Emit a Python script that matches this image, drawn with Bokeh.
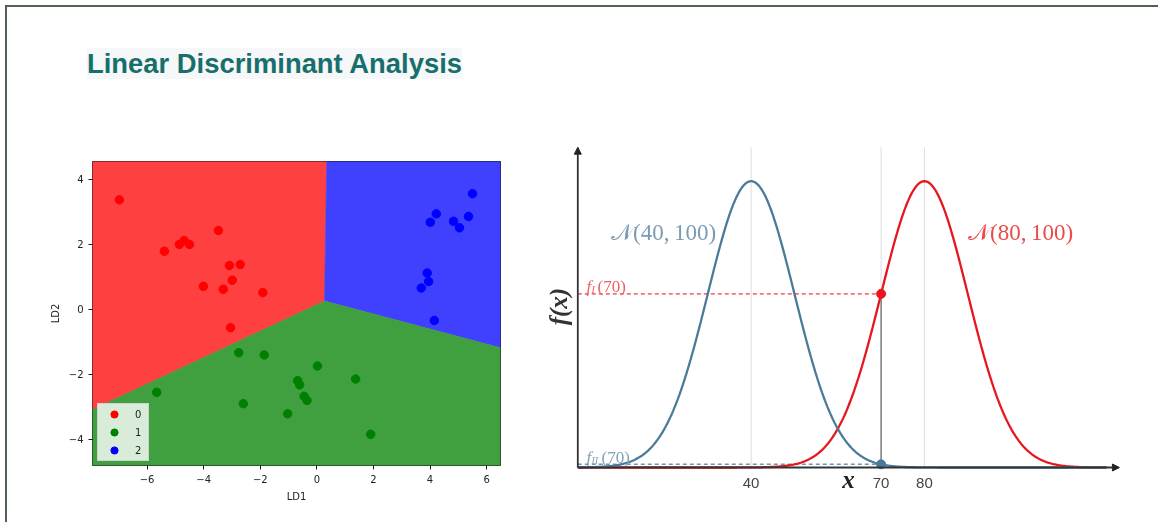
import numpy as np
from bokeh.plotting import figure
from bokeh.models import Range1d, Div, Legend, LegendItem, Arrow, NormalHead
from bokeh.layouts import column, row
from bokeh.embed import file_html
from bokeh.resources import INLINE
from bokeh.core.properties import value

# ---------------- data: left panel (LDA projection) ----------------
class_labels = ["0", "1", "2"]
ld1_class0 = [-6.98, -3.48, -5.39, -4.86, -4.69, -4.50, -3.09, -2.71, -2.99, -4.01, -3.31, -1.91, -3.05]
ld2_class0 = [3.36, 2.42, 1.78, 1.99, 2.11, 1.99, 1.34, 1.37, 0.89, 0.70, 0.61, 0.51, -0.57]
ld1_class1 = [-5.66, -2.76, -1.86, -2.60, 0.02, -0.68, -0.61, -0.45, -0.35, -1.03, 1.37, 1.90]
ld2_class1 = [-2.56, -1.34, -1.41, -2.91, -1.75, -2.20, -2.33, -2.68, -2.81, -3.22, -2.15, -3.85]
ld1_class2 = [5.50, 4.22, 4.01, 4.83, 5.04, 5.36, 3.90, 3.95, 3.69, 4.15]
ld2_class2 = [3.55, 2.93, 2.67, 2.70, 2.50, 2.85, 1.11, 0.85, 0.65, -0.35]

# plotting window of the decision-region grid
ld1_limits = [-7.93, 6.49]
ld2_limits = [-4.81, 4.54]
# decision boundaries: common junction and where each boundary leaves the window
boundary_junction = [0.27, 0.25]
boundary_top_ld1 = 0.35      # class 0 / class 2 boundary at top edge
boundary_left_ld2 = -3.09    # class 0 / class 1 boundary at left edge
boundary_right_ld2 = -1.19   # class 1 / class 2 boundary at right edge

x_ticks_left = [-6, -4, -2, 0, 2, 4, 6]
y_ticks_left = [-4, -2, 0, 2, 4]

# ---------------- data: right panel (two normal densities) ----------------
means = [40, 80]
variances = [100, 100]
x_eval = 70
x_axis_max = 125
x_ticks_right = [40, 70, 80]

# ---------------- left figure ----------------
xmin, xmax = ld1_limits
ymin, ymax = ld2_limits
jx, jy = boundary_junction

p1 = figure(width=528, height=397,
            min_border_left=92, min_border_right=28, min_border_top=53, min_border_bottom=40,
            x_range=Range1d(xmin, xmax), y_range=Range1d(ymin, ymax),
            output_backend="svg", toolbar_location=None, margin=0)
p1.border_fill_alpha = 0
p1.frame_align = False

region_red = ([xmin, xmin, boundary_top_ld1, jx], [boundary_left_ld2, ymax, ymax, jy])
region_blue = ([boundary_top_ld1, xmax, xmax, jx], [ymax, ymax, boundary_right_ld2, jy])
region_green = ([xmin, jx, xmax, xmax, xmin], [boundary_left_ld2, jy, boundary_right_ld2, ymin, ymin])
for (rx, ry), col in [(region_red, "#ff4040"), (region_blue, "#4040ff"), (region_green, "#40a040")]:
    p1.patch(rx, ry, fill_color=col, line_color=col, line_width=0.6)

r0 = p1.scatter(ld1_class0, ld2_class0, size=8.5, color="#ff0000")
r1 = p1.scatter(ld1_class1, ld2_class1, size=8.5, color="#008000")
r2 = p1.scatter(ld1_class2, ld2_class2, size=8.5, color="#0000ff")

legend = Legend(items=[LegendItem(label=class_labels[0], renderers=[r0]),
                       LegendItem(label=class_labels[1], renderers=[r1]),
                       LegendItem(label=class_labels[2], renderers=[r2])],
                location=(5, 4), padding=1, spacing=0, margin=0,
                glyph_width=30, glyph_height=18, label_height=18, label_width=12,
                label_standoff=6, label_text_font_size="10px",
                label_text_font="DejaVu Sans", label_text_color="#222222",
                background_fill_color="white", background_fill_alpha=0.8,
                border_line_color="#cccccc", border_line_alpha=0.8)
p1.add_layout(legend, "center")

p1.grid.visible = False
p1.outline_line_color = "black"
p1.outline_line_width = 0.9
p1.xaxis.ticker = x_ticks_left
p1.yaxis.ticker = y_ticks_left
p1.xaxis.major_label_overrides = {t: (str(t).replace("-", "\u2212")) for t in x_ticks_left}
p1.yaxis.major_label_overrides = {t: (str(t).replace("-", "\u2212")) for t in y_ticks_left}
p1.xaxis.axis_label = "LD1"
p1.yaxis.axis_label = "LD2"
for ax in (p1.xaxis, p1.yaxis):
    ax.axis_line_color = None
    ax.major_tick_in = 0
    ax.major_tick_out = 4
    ax.minor_tick_line_color = None
    ax.major_tick_line_color = "black"
    ax.major_tick_line_width = 0.9
    ax.major_label_text_font = "DejaVu Sans"
    ax.major_label_text_font_size = "10px"
    ax.major_label_text_color = "#222222"
    ax.major_label_standoff = 5
    ax.axis_label_text_font = "DejaVu Sans"
    ax.axis_label_text_font_size = "10px"
    ax.axis_label_text_font_style = "normal"
    ax.axis_label_text_color = "#222222"
    ax.axis_label_standoff = 5

# ---------------- right figure ----------------
px_per_x = 4.333
px_per_y = 7176.6
x0_px, y0_px = 49.3, 359.0  # pixel position (within figure) of the origin
W2, H2 = 622, 397
p2 = figure(width=W2, height=H2,
            x_range=Range1d(-x0_px / px_per_x, (W2 - x0_px) / px_per_x),
            y_range=Range1d(-(H2 - y0_px) / px_per_y, y0_px / px_per_y),
            x_axis_location=None, y_axis_location=None, min_border=0,
            output_backend="svg", toolbar_location=None, margin=0)
p2.grid.visible = False
p2.outline_line_color = None
p2.border_fill_alpha = 0
p2.frame_align = False


def normal_pdf(x, mu, var):
    return np.exp(-(np.asarray(x) - mu) ** 2 / (2 * var)) / np.sqrt(2 * np.pi * var)


peak = normal_pdf(means[0], means[0], variances[0])
y_axis_max = peak * 1.1187
f_I = float(normal_pdf(x_eval, means[1], variances[1]))
f_II = float(normal_pdf(x_eval, means[0], variances[0]))

# light vertical guides
gx = [means[0], x_eval, means[1]]
p2.segment(x0=gx, y0=[0] * 3, x1=gx, y1=[y_axis_max] * 3, line_color="#dddddd", line_width=1)
p2.segment(x0=[x_eval], y0=[0], x1=[x_eval], y1=[f_I], line_color="#6e6e6e", line_width=1.3)

# dashed reference lines
p2.segment(x0=[0], y0=[f_I], x1=[x_eval], y1=[f_I], line_color="#f37373", line_width=1.6, line_dash="4 3")
p2.segment(x0=[0], y0=[f_II], x1=[x_eval], y1=[f_II], line_color="#6f98b0", line_width=1.6, line_dash="4 3")

# axes with arrow heads
p2.add_layout(Arrow(x_start=0, y_start=0, x_end=0, y_end=y_axis_max, line_color="#333333", line_width=1.8,
                    end=NormalHead(size=7, fill_color="#222222", line_color="#222222")))
p2.add_layout(Arrow(x_start=0, y_start=0, x_end=x_axis_max, y_end=0, line_color="#333333", line_width=1.8,
                    end=NormalHead(size=7, fill_color="#222222", line_color="#222222")))

xs = np.linspace(0, x_axis_max - 3, 600)
blue, red = "#4b7b98", "#e8161e"
p2.line(xs, normal_pdf(xs, means[1], variances[1]), line_color=red, line_width=2.3)
p2.line(xs, normal_pdf(xs, means[0], variances[0]), line_color=blue, line_width=2.3)

p2.scatter([x_eval], [f_I], size=9, color=red)
p2.scatter([x_eval], [f_II], size=9, color=blue)

serif = value("Liberation Serif")
lbl_y = peak * 0.821
p2.text(x=[19.8], y=[lbl_y], text=["\U0001D4A9(%d,\u2009%d)" % (means[0], variances[0])],
        text_font=serif, text_font_size="23px", text_color="#7a9cb2",
        text_align="center", text_baseline="middle")
p2.text(x=[102.2], y=[lbl_y], text=["\U0001D4A9(%d,\u2009%d)" % (means[1], variances[1])],
        text_font=serif, text_font_size="23px", text_color="#ea4a4a",
        text_align="center", text_baseline="middle")

# f_I(70) and f_II(70) labels
def sub_label(y, sub, color, sub_w):
    p2.text(x=[2.0], y=[y], text=["f"], text_font=serif, text_font_size="17px", text_font_style="italic",
            text_color=color, text_baseline="alphabetic")
    p2.text(x=[2.0], y=[y], text=[sub], text_font=serif, text_font_size="10px", text_font_style="italic",
            text_color=color, text_baseline="alphabetic", x_offset=5, y_offset=3)
    p2.text(x=[2.0], y=[y], text=["(%d)" % x_eval], text_font=serif, text_font_size="17px",
            text_color=color, text_baseline="alphabetic", x_offset=5 + sub_w)

sub_label(f_I + 7.2 / px_per_y, "I", "#f06060", 6)
sub_label(f_II + 7.0 / px_per_y, "II", "#7fa3b8", 10)

# tick labels and axis titles
p2.text(x=x_ticks_right, y=[-15.5 / px_per_y] * 3, text=[str(t) for t in x_ticks_right],
        text_font=value("Liberation Sans"), text_font_size="15px", text_color="#444444",
        text_align="center", text_baseline="middle")
p2.text(x=[62.5], y=[-12 / px_per_y], text=["x"], text_font=serif, text_font_size="25px",
        text_font_style="bold italic", text_color="#222222", text_align="center", text_baseline="middle")
p2.text(x=[-4.4], y=[peak * 0.562], text=["f(x)"], text_font=serif, text_font_size="25px",
        text_font_style="bold italic", text_color="#333333", text_align="center", text_baseline="middle",
        angle=np.pi / 2)

# ---------------- title ----------------
title_html = (
    '<div style="position:fixed;left:5px;top:5px;width:1153px;height:2px;background:#4f614f"></div>'
    '<div style="position:fixed;left:5px;top:5px;width:2px;height:517px;background:#4f614f"></div>'
    '<div style="padding:48px 0 0 87px;margin:0;line-height:30px;">'
    '<span style="font:bold 27.4px \'Liberation Sans\',Arial,sans-serif;color:#176f6b;background:#f5f7f8;">'
    'Linear Discriminant Analysis</span></div>'
)
title = Div(text=title_html, width=1150, height=108, margin=0)

layout = column(title, row(p1, p2, margin=0), margin=0)
open("out.html", "w").write(file_html(layout, INLINE))
